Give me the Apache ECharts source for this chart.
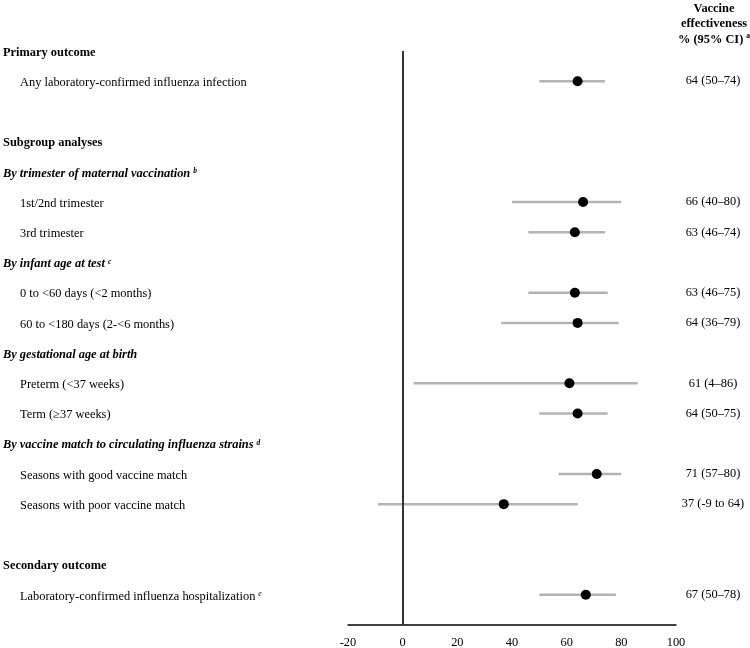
<!DOCTYPE html>
<html>
<head>
<meta charset="utf-8">
<script src="https://cdn.jsdelivr.net/npm/echarts@6/dist/echarts.min.js"></script>
<style>
html,body{margin:0;padding:0;background:#fff;}
#chart{width:750px;height:648px;}
</style>
</head>
<body>
<div id="chart"></div>
<script>
// Row labels (style: h = bold header, s = bold italic subgroup, i = indented item, '' = blank)
const rowLabels = [
  'Primary outcome',
  'Any laboratory-confirmed influenza infection',
  '',
  'Subgroup analyses',
  'By trimester of maternal vaccination',
  '1st/2nd trimester',
  '3rd trimester',
  'By infant age at test',
  '0 to <60 days (<2 months)',
  '60 to <180 days (2-<6 months)',
  'By gestational age at birth',
  'Preterm (<37 weeks)',
  'Term (\u226537 weeks)',
  'By vaccine match to circulating influenza strains',
  'Seasons with good vaccine match',
  'Seasons with poor vaccine match',
  '',
  'Secondary outcome',
  'Laboratory-confirmed influenza hospitalization'
];
const rowStyles = ['h','i','','h','s','i','i','s','i','i','s','i','i','s','i','i','','h','i'];
const rowNotes  = ['','','','','b','','','c','','','','','','d','','','','','e'];
// Vaccine effectiveness estimates and 95% CI
const estimates = [null,64,null,null,null,66,63,null,63,64,null,61,64,null,71,37,null,null,67];
const ciLower   = [null,50,null,null,null,40,46,null,46,36,null,4,50,null,57,-9,null,null,50];
const ciUpper   = [null,74,null,null,null,80,74,null,75,79,null,86,75,null,80,64,null,null,78];
const ciLabels  = ['', '64 (50\u201374)', '', '', '', '66 (40\u201380)', '63 (46\u201374)', '',
  '63 (46\u201375)', '64 (36\u201379)', '', '61 (4\u201386)', '64 (50\u201375)', '',
  '71 (57\u201380)', '37 (-9 to 64)', '', '', '67 (50\u201378)'];
const xTicks = [-20, 0, 20, 40, 60, 80, 100];
const headerLines = ['Vaccine', 'effectiveness', '% (95% CI)'];
const headerNote = 'a';

const FONT = "'Liberation Serif', 'Times New Roman', serif";
const FS = 12.4;

const points = [], cis = [];
estimates.forEach((v, i) => {
  if (v !== null) {
    points.push([v, i]);
    cis.push([ciLower[i], i, ciUpper[i]]);
  }
});

function leftLabel(val) {
  const i = Math.round(val);
  if (i < 0 || i >= rowLabels.length || !rowLabels[i]) return '';
  const st = rowStyles[i];
  const note = rowNotes[i];
  let s = '{' + st + '|' + rowLabels[i] + '}';
  if (note) s += '{' + (st === 's' ? 'ssup' : 'isup') + '|' + note + '}';
  return s;
}

const chart = echarts.init(document.getElementById('chart'), null, {renderer: 'canvas'});
chart.setOption({
  animation: false,
  backgroundColor: '#fff',
  textStyle: {fontFamily: FONT},
  grid: {left: 348, right: 74, top: 51, bottom: 23, containLabel: false, outerBoundsMode: 'none'},
  xAxis: {
    type: 'value', min: -20, max: 100, interval: 20,
    axisLine: {show: true, onZero: false, lineStyle: {color: '#000', width: 1.5}},
    axisTick: {show: false},
    splitLine: {show: false},
    axisLabel: {color: '#000', fontSize: FS, fontFamily: FONT, margin: 12,
      formatter: v => (xTicks.indexOf(v) >= 0 ? String(v) : '')}
  },
  yAxis: [{
    type: 'value', min: 0, max: 19, interval: 1, inverse: true,
    axisLine: {show: false}, axisTick: {show: false}, splitLine: {show: false},
    axisLabel: {
      align: 'left', margin: 345, color: '#000', fontFamily: FONT, fontSize: FS,
      padding: [3, 0, 0, 0],
      formatter: leftLabel,
      rich: {
        h: {fontWeight: 'bold', fontSize: FS, fontFamily: FONT, color: '#000'},
        s: {fontWeight: 'bold', fontStyle: 'italic', fontSize: FS, fontFamily: FONT, color: '#000'},
        i: {fontSize: FS, fontFamily: FONT, color: '#000', padding: [0, 0, 0, 17]},
        ssup: {fontWeight: 'bold', fontStyle: 'italic', fontSize: 7.5, fontFamily: FONT, color: '#000', verticalAlign: 'top', padding: [0, 0, 0, 3], lineHeight: 10},
        isup: {fontSize: 7.5, fontStyle: 'italic', fontFamily: FONT, color: '#000', verticalAlign: 'top', padding: [0, 0, 0, 3], lineHeight: 10}
      }
    }
  }, {
    type: 'value', min: 0, max: 19, interval: 1, inverse: true, position: 'right',
    axisLine: {show: false}, axisTick: {show: false}, splitLine: {show: false},
    axisLabel: {
      align: 'center', margin: 37, color: '#000', fontFamily: FONT, fontSize: FS,
      padding: [2, 0, 0, 0],
      formatter: v => ciLabels[Math.round(v)] || ''
    }
  }],
  graphic: [{
    type: 'text', x: 714, y: 1,
    style: {
      text: '{b|' + headerLines[0] + '}\n{b|' + headerLines[1] + '}\n{b|' + headerLines[2] + '}{sup|' + headerNote + '}',
      textAlign: 'center', textVerticalAlign: 'top',
      rich: {
        b: {fontFamily: FONT, fontWeight: 'bold', fontSize: FS, lineHeight: 15.5, fill: '#000'},
        sup: {fontFamily: FONT, fontWeight: 'bold', fontSize: 7.5, lineHeight: 12, verticalAlign: 'top', fill: '#000', padding: [0, 0, 0, 3]}
      }
    }
  }],
  series: [{
    type: 'custom',
    data: cis,
    encode: {x: [0, 2], y: 1},
    renderItem: function (params, api) {
      const y = api.value(1);
      const p1 = api.coord([api.value(0), y]);
      const p2 = api.coord([api.value(2), y]);
      return {type: 'line', shape: {x1: p1[0], y1: p1[1], x2: p2[0], y2: p2[1]},
        style: {stroke: '#b3b3b3', lineWidth: 2.5}};
    },
    z: 2
  }, {
    type: 'scatter',
    data: points,
    symbol: 'circle', symbolSize: 10,
    itemStyle: {color: '#000', opacity: 1},
    z: 3,
    markLine: {
      silent: true, symbol: 'none', label: {show: false},
      lineStyle: {color: '#333', width: 2, type: 'solid', opacity: 1},
      data: [{xAxis: 0}]
    }
  }]
});
</script>
</body>
</html>
